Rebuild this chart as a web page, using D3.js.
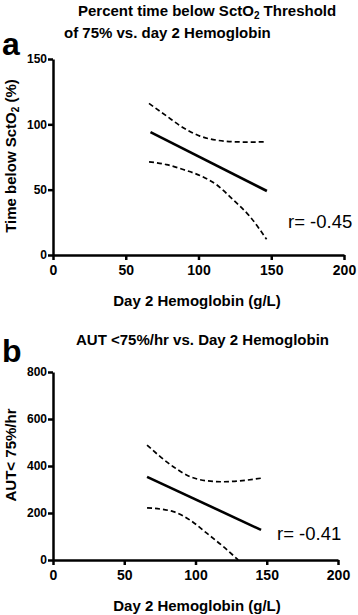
<!DOCTYPE html>
<html lang="en">
<head>
  <meta charset="UTF-8">
  <title>SctO2 vs day 2 Hemoglobin</title>
  <style>
      body { margin: 0; background: #fff; }
      svg { font-family: "Liberation Sans", Arial, sans-serif; }
      .axis path, .axis line { stroke: #000; stroke-width: 2.5px; }
      .axis text { font-weight: bold; fill: #000; }
      .xaxis text { font-size: 14px; }
      .yaxis text { font-size: 12px; }
      .title { font-size: 15px; font-weight: bold; }
      .label { font-size: 15px; font-weight: bold; }
      .panel { font-size: 32px; font-weight: bold; }
      .rtext { font-size: 18.5px; }
  </style>
</head>
<body>
<div id="chart"></div>
<script src="https://d3js.org/d3.v7.min.js"></script>
<script>
  // values
  const xTicks = [0, 50, 100, 150, 200];
  const aYTicks = [0, 50, 100, 150];
  const bYTicks = [0, 200, 400, 600, 800];

  // panel a: fit line and 95% band
  const aFitX = [67, 147];
  const aFitY = [94, 49];
  const aBandX = [66, 78, 89.5, 101, 112.4, 123.8, 135.3, 146.8];
  const aUpperY = [116, 106.4, 97.4, 91, 87.9, 86.7, 86.4, 86.7];
  const aLowerY = [71.3, 69.2, 65.4, 60.8, 53.8, 42.3, 29.5, 12];

  // panel b: fit line and 95% band
  const bFitX = [66, 146];
  const bFitY = [354, 128];
  const bUpperX = [66, 84.4, 96.1, 107.9, 119.5, 131.2, 146];
  const bUpperY = [489, 397, 355, 337, 333, 337, 348];
  const bLowerX = [66, 84.4, 96.1, 107.9, 119.5, 130];
  const bLowerY = [222, 206, 170, 114, 57, 0];

  const svg = d3.select("#chart").append("svg")
    .attr("width", 358)
    .attr("height", 615);

  function panel(opt) {
    const x = d3.scaleLinear().domain([0, 200]).range([opt.left, opt.right]);
    const y = d3.scaleLinear().domain([0, opt.yMax]).range([opt.bottom, opt.top]);

    svg.append("g")
      .attr("class", "axis xaxis")
      .attr("transform", `translate(0,${opt.bottom})`)
      .call(d3.axisBottom(x).tickValues(xTicks).tickSize(5).tickSizeOuter(0).tickPadding(5));

    svg.append("g")
      .attr("class", "axis yaxis")
      .attr("transform", `translate(${opt.left},0)`)
      .call(d3.axisLeft(y).tickValues(opt.yTicks).tickSize(5).tickSizeOuter(0).tickPadding(1));

    const line = d3.line().x(d => x(d[0])).y(d => y(d[1])).curve(d3.curveMonotoneX);

    svg.append("path")
      .datum(d3.zip(opt.fitX, opt.fitY))
      .attr("d", line)
      .attr("fill", "none")
      .attr("stroke", "#000")
      .attr("stroke-width", 2.6);

    [d3.zip(opt.upX, opt.upY), d3.zip(opt.loX, opt.loY)].forEach(pts => {
      svg.append("path")
        .datum(pts)
        .attr("d", line)
        .attr("fill", "none")
        .attr("stroke", "#000")
        .attr("stroke-width", 1.7)
        .attr("stroke-dasharray", "5,3");
    });

    svg.append("text")
      .attr("class", "label")
      .attr("x", 197)
      .attr("y", opt.bottom + 51)
      .attr("text-anchor", "middle")
      .text("Day 2 Hemoglobin (g/L)");

    svg.append("text")
      .attr("class", "rtext")
      .attr("x", opt.rx)
      .attr("y", opt.ry)
      .text(opt.rLabel);

    svg.append("text")
      .attr("class", "panel")
      .attr("x", 2)
      .attr("y", opt.panelY)
      .text(opt.panel);
  }

  panel({
    left: 53, right: 344, top: 59, bottom: 255, yMax: 150, yTicks: aYTicks,
    fitX: aFitX, fitY: aFitY, upX: aBandX, upY: aUpperY, loX: aBandX, loY: aLowerY,
    rx: 288, ry: 228, rLabel: "r= -0.45", panel: "a", panelY: 55
  });

  panel({
    left: 53, right: 338, top: 372, bottom: 560, yMax: 800, yTicks: bYTicks,
    fitX: bFitX, fitY: bFitY, upX: bUpperX, upY: bUpperY, loX: bLowerX, loY: bLowerY,
    rx: 277, ry: 540, rLabel: "r= -0.41", panel: "b", panelY: 362
  });

  // titles
  const t1 = svg.append("text").attr("class", "title").attr("x", 78).attr("y", 15.5);
  t1.append("tspan").text("Percent time below SctO");
  t1.append("tspan").attr("dy", 3).style("font-size", "10px").text("2");
  t1.append("tspan").attr("dy", -3).text(" Threshold");

  svg.append("text").attr("class", "title")
    .attr("x", 64).attr("y", 38)
    .text("of 75% vs. day 2 Hemoglobin");

  svg.append("text").attr("class", "title")
    .attr("x", 76).attr("y", 345)
    .text("AUT <75%/hr vs. Day 2 Hemoglobin");

  // y axis titles
  const ya = svg.append("text").attr("class", "label")
    .attr("transform", "translate(15.5,156) rotate(-90)")
    .attr("text-anchor", "middle");
  ya.append("tspan").text("Time below SctO");
  ya.append("tspan").attr("dy", 3).style("font-size", "10px").text("2");
  ya.append("tspan").attr("dy", -3).text(" (%)");

  svg.append("text").attr("class", "label")
    .attr("transform", "translate(15.5,455) rotate(-90)")
    .attr("text-anchor", "middle")
    .text("AUT< 75%/hr");
</script>
</body>
</html>
